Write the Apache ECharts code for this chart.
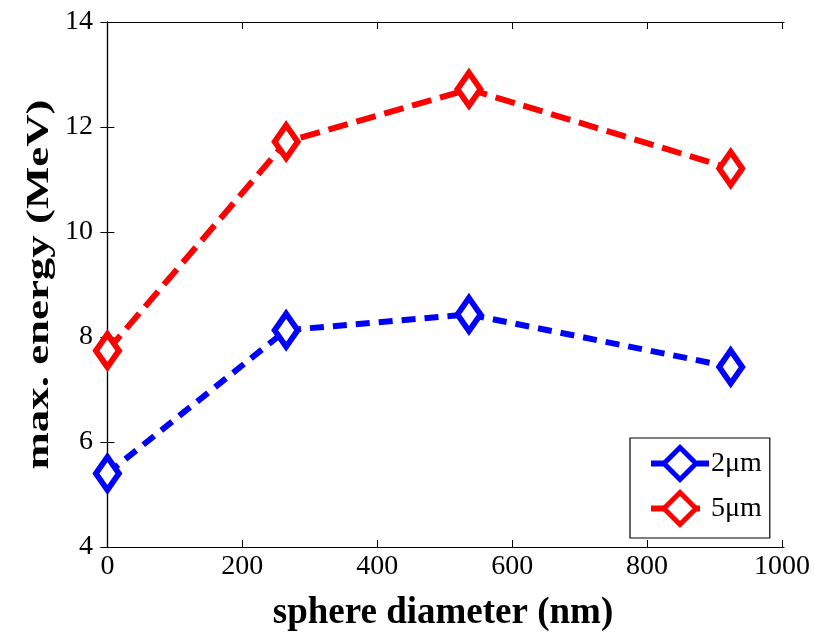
<!DOCTYPE html>
<html>
<head>
<meta charset="utf-8">
<script src="https://cdn.jsdelivr.net/npm/echarts@6/dist/echarts.min.js"></script>
<style>
  html, body { margin: 0; padding: 0; background: #fff; }
  #chart { width: 814px; height: 633px; }
</style>
</head>
<body>
<div id="chart"></div>
<script>
// Sphere diameters (nm) and maximum energies (MeV) for two target thicknesses
const diameters = [0, 265, 536, 924];
const energy2um = [5.40, 8.13, 8.43, 7.43];
const energy5um = [7.74, 11.72, 12.72, 11.21];
const seriesNames = ['2\u03bcm', '5\u03bcm'];
const xTicks = [0, 200, 400, 600, 800, 1000];
const xTitle = 'sphere diameter (nm)';
const yTitle = 'max. energy (MeV)';

const serif = '"Liberation Serif", "Times New Roman", serif';

function pairs(xs, ys) { return xs.map((x, i) => [x, ys[i]]); }

const chart = echarts.init(document.getElementById('chart'), null, { renderer: 'canvas' });

function lineSeries(name, color, values, dash) {
  return {
    name: name,
    type: 'line',
    xAxisIndex: 0,
    yAxisIndex: 0,
    data: pairs(diameters, values),
    symbol: 'diamond',
    symbolSize: [23, 33],
    showAllSymbol: true,
    lineStyle: { color: color, width: 6, type: dash },
    itemStyle: { color: '#fff', borderColor: color, borderWidth: 6 },
    emphasis: { disabled: true },
    animation: false,
    z: 3
  };
}

const axisLine = { show: true, lineStyle: { color: '#000', width: 1.2 } };
const grid = { left: 102, top: 22, right: 30, bottom: 86 };

chart.setOption({
  backgroundColor: '#fff',
  animation: false,
  grid: Object.assign({ containLabel: false, outerBoundsMode: 'none' }, grid),
  legend: {
    orient: 'vertical',
    left: 630,
    top: 438,
    width: 142,
    padding: [7, 8, 11, 18],
    itemWidth: 58,
    itemHeight: 40,
    itemGap: 8,
    backgroundColor: '#fff',
    borderColor: '#000',
    borderWidth: 1.2,
    itemStyle: { borderWidth: 5 },
    lineStyle: { width: 6 },
    textStyle: { fontFamily: serif, fontSize: 28, color: '#000', padding: [0, 0, 0, -3] },
    data: seriesNames
  },
  // y-axis title, drawn stretched along its length
  graphic: [{
    type: 'text',
    x: 40,
    y: grid.top + (633 - grid.top - grid.bottom) / 2,
    rotation: Math.PI / 2,
    scaleX: 1.36,
    scaleY: 0.95,
    style: {
      text: yTitle,
      font: 'bold 33px ' + serif,
      fill: '#000',
      align: 'center',
      verticalAlign: 'middle'
    }
  }],
  xAxis: [
    {
      type: 'value', min: -8, max: 1003, position: 'bottom',
      name: xTitle, nameLocation: 'middle', nameGap: 48,
      nameTextStyle: { fontFamily: serif, fontSize: 37, fontWeight: 'bold', color: '#000' },
      axisLine: axisLine,
      axisTick: { show: true, inside: true, length: 7, lineStyle: { color: '#000' }, customValues: xTicks },
      axisLabel: { fontFamily: serif, fontSize: 28, color: '#000', margin: 6, customValues: xTicks,
                   formatter: v => String(v) },
      splitLine: { show: false }
    },
    {
      type: 'value', min: -8, max: 1003, position: 'top',
      axisLine: axisLine,
      axisTick: { show: true, inside: true, length: 7, lineStyle: { color: '#000' }, customValues: xTicks },
      axisLabel: { show: false },
      splitLine: { show: false }
    }
  ],
  yAxis: [
    {
      type: 'value', min: 4, max: 14, interval: 2, position: 'left',
      axisLine: axisLine,
      axisTick: { show: true, inside: true, length: 7, lineStyle: { color: '#000' } },
      axisLabel: { fontFamily: serif, fontSize: 28, color: '#000', margin: 9 },
      splitLine: { show: false }
    },
    {
      type: 'value', min: 4, max: 14, interval: 2, position: 'right',
      axisLine: axisLine,
      axisTick: { show: true, inside: true, length: 7, lineStyle: { color: '#000' } },
      axisLabel: { show: false },
      splitLine: { show: false }
    }
  ],
  series: [
    lineSeries(seriesNames[0], '#0000ff', energy2um, [14, 9]),
    lineSeries(seriesNames[1], '#ff0000', energy5um, [20, 9])
  ]
});
</script>
</body>
</html>
